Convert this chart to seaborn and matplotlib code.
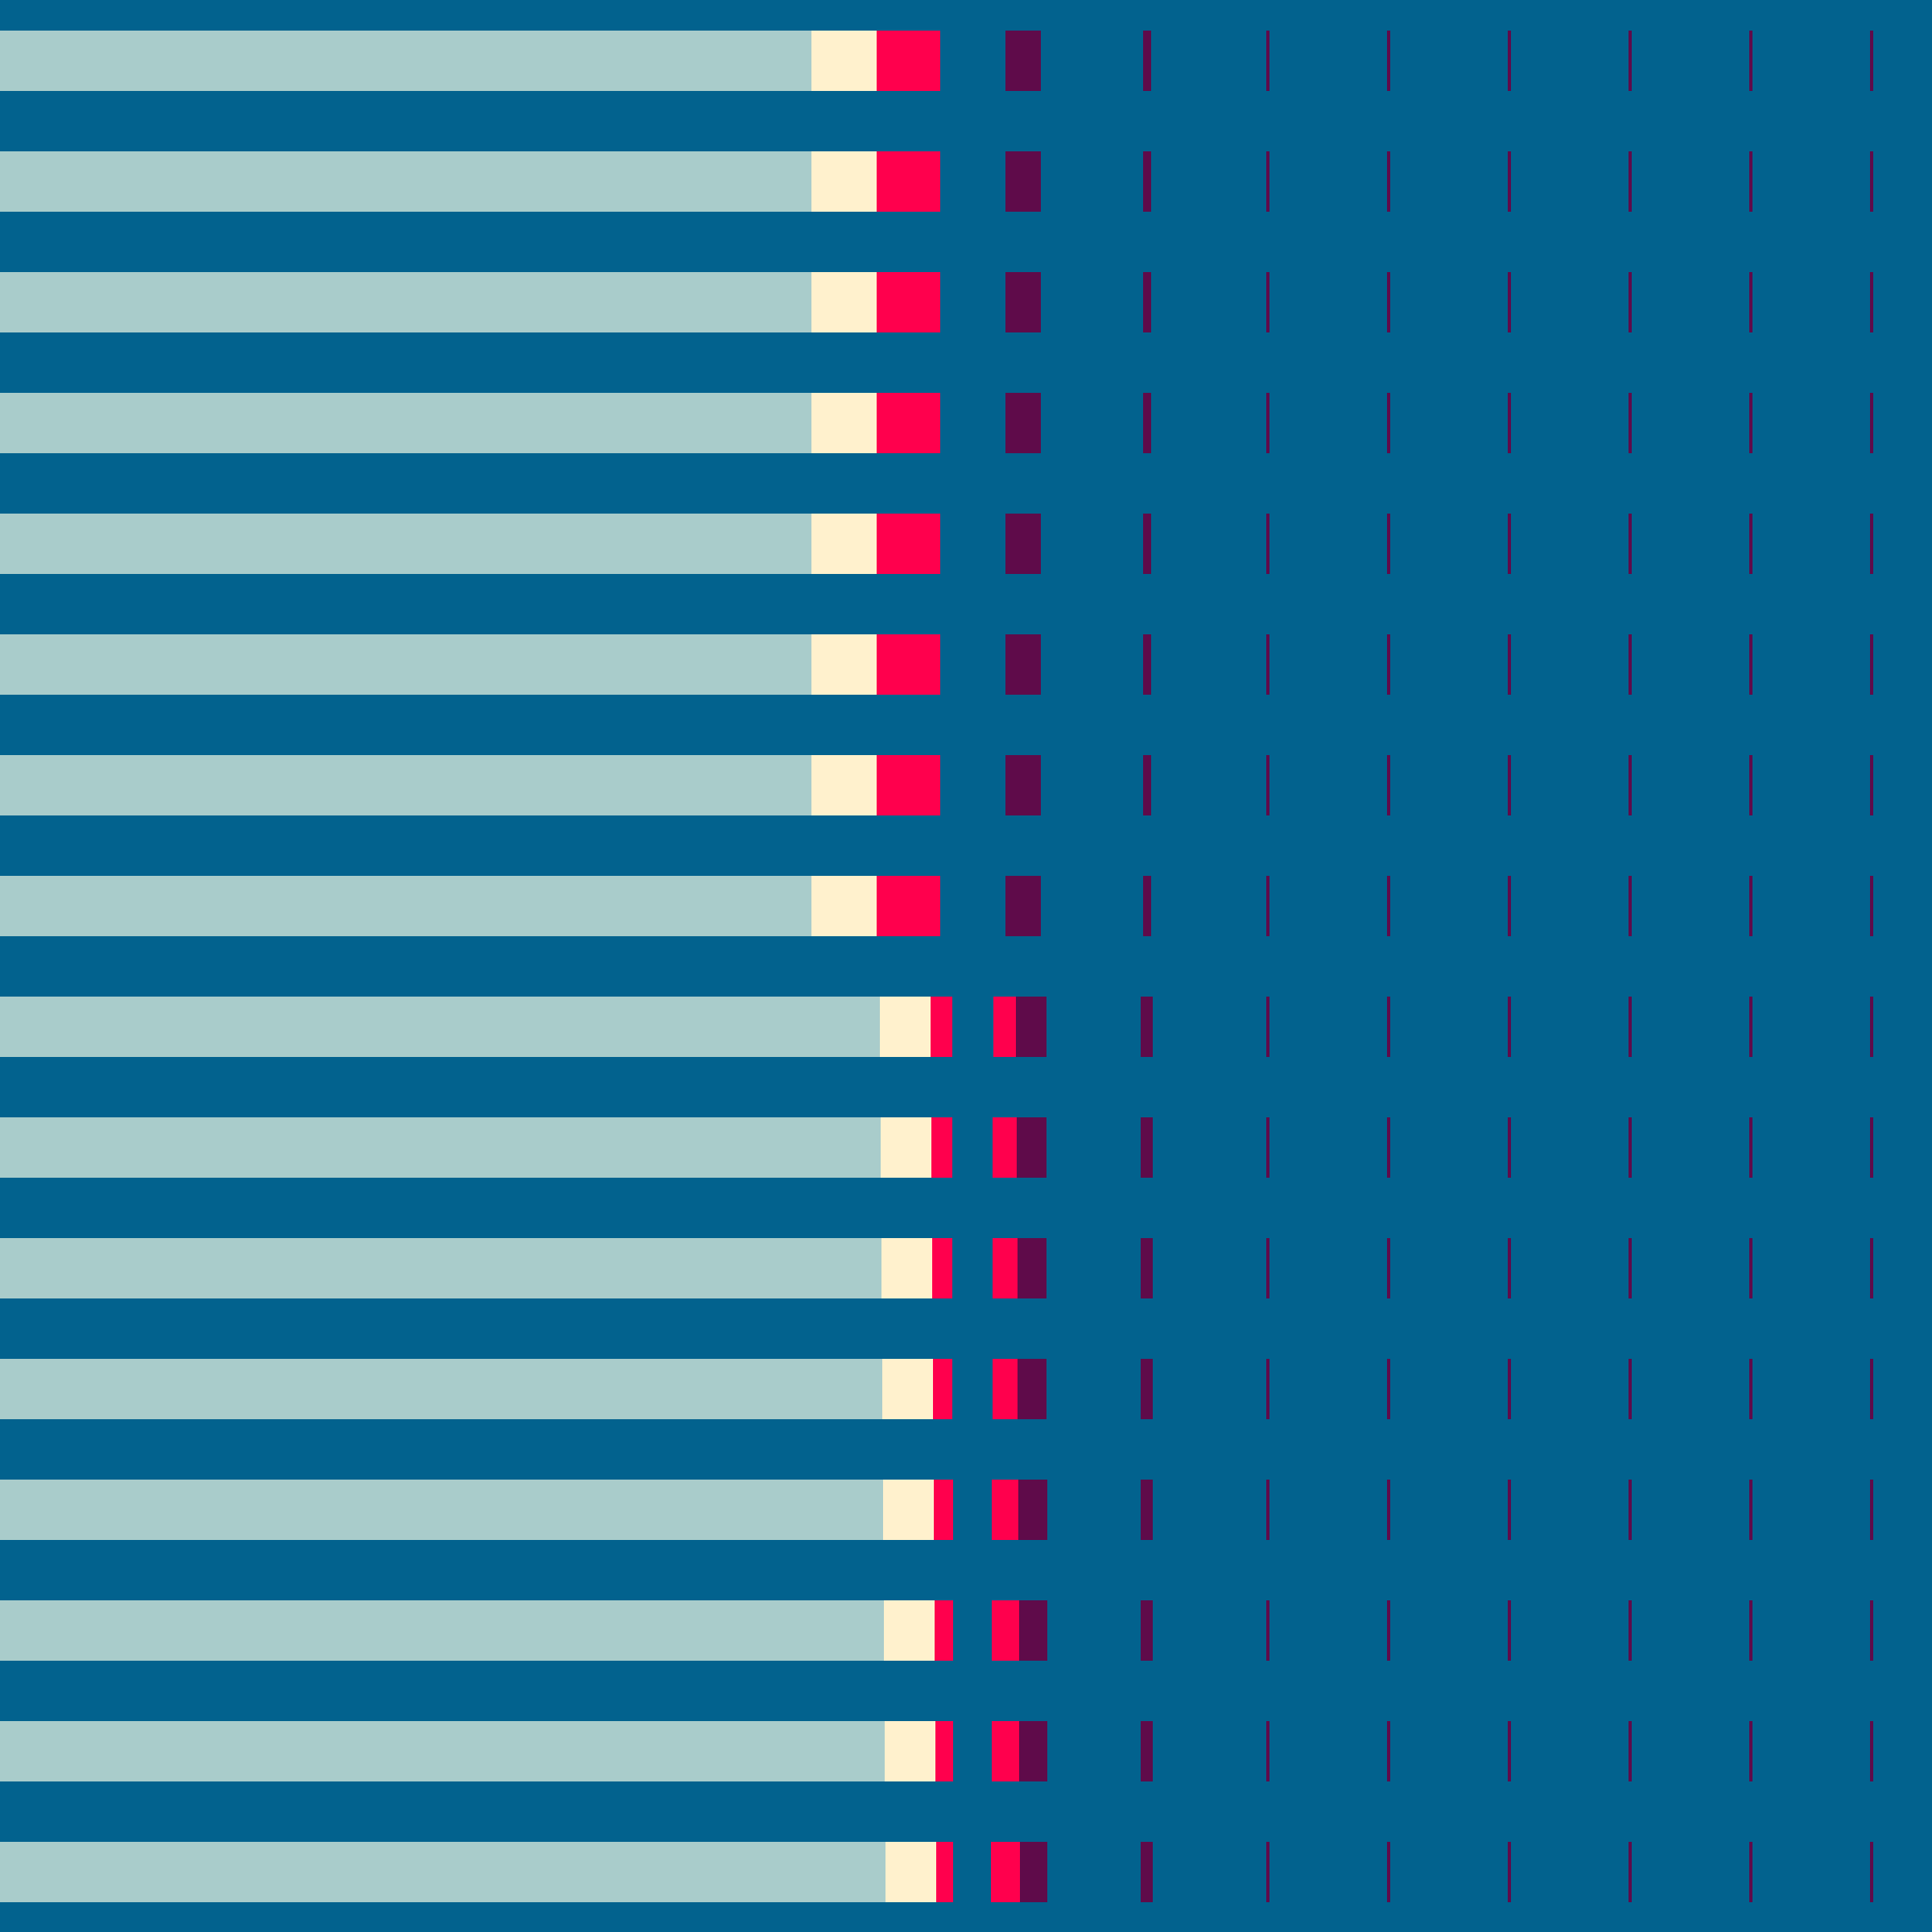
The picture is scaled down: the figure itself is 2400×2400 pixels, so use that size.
import matplotlib
matplotlib.use("Agg")
import matplotlib.pyplot as plt
import numpy as np
import pandas as pd
import seaborn as sns

# Colours
BLUE = "#02628E"
TEAL = "#A9CCCB"
CREAM = "#FFF1CD"
RED = "#FF004D"
PURPLE = "#5F0B4A"

# 16 rows, top to bottom
rows = [f"r{i}" for i in range(1, 17)]

# Right edges of each segment (x scale 0..240)
teal_end = [100.8] * 8 + [109.3, 109.4, 109.5, 109.6, 109.7, 109.8, 109.9, 110.0]
cream_end = [108.9] * 8 + [115.6, 115.7, 115.8, 115.9, 116.0, 116.1, 116.2, 116.3]
red_end = [116.8] * 8 + [118.3, 118.3, 118.3, 118.3, 118.4, 118.4, 118.4, 118.4]
red2_start = [124.9] * 8 + [123.4, 123.3, 123.3, 123.3, 123.2, 123.2, 123.2, 123.1]
red2_end = [124.9] * 8 + [126.2, 126.3, 126.4, 126.4, 126.5, 126.6, 126.6, 126.7]
purple_end = [129.3] * 8 + [130.0, 130.0, 130.0, 130.0, 130.1, 130.1, 130.1, 130.1]
mark_start = [142.0] * 8 + [141.7] * 8
mark_end = [143.0] * 8 + [143.2] * 8
tick_starts = [157.3, 172.3, 187.3, 202.3, 217.3, 232.3]
tick_width = 0.4

# layers in stacking order: (right edge per row, colour)
layers = [
    (teal_end, TEAL),
    (cream_end, CREAM),
    (red_end, RED),
    (red2_start, BLUE),
    (red2_end, RED),
    (purple_end, PURPLE),
    (mark_start, BLUE),
    (mark_end, PURPLE),
]
for t in tick_starts:
    layers.append(([t] * len(rows), BLUE))
    layers.append(([t + tick_width] * len(rows), PURPLE))

fig = plt.figure(figsize=(8, 8), dpi=300, facecolor=BLUE)
ax = fig.add_axes([0, 0, 1, 1])
ax.set_facecolor(BLUE)

# stacked bars: draw the longest cumulative layer first, shorter ones on top
for edges, col in reversed(layers):
    df = pd.DataFrame({"row": rows, "edge": edges})
    sns.barplot(data=df, x="edge", y="row", order=rows, orient="h",
                color=col, saturation=1, width=0.5, errorbar=None,
                linewidth=0, edgecolor="none", ax=ax)

ax.set_xlim(0, 240)
ax.set_ylim(len(rows) - 0.5, -0.5)
ax.axis("off")

fig.savefig("out.png", dpi=300, facecolor=BLUE)
